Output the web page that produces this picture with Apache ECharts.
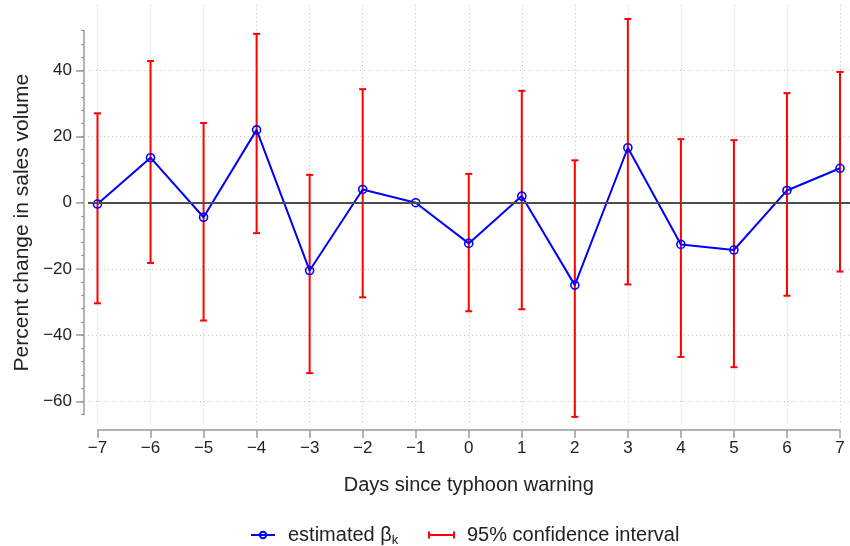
<!DOCTYPE html>
<html>
<head>
<meta charset="utf-8">
<script src="https://cdn.jsdelivr.net/npm/echarts@6/dist/echarts.min.js"></script>
<style>
  html, body { margin: 0; padding: 0; background: #fff; }
  #chart { width: 850px; height: 546px; }
</style>
</head>
<body>
<div id="chart"></div>
<script>
// Event-study estimates by day relative to the typhoon warning
const days = [-7, -6, -5, -4, -3, -2, -1, 0, 1, 2, 3, 4, 5, 6, 7];
const beta = [-0.4, 13.6, -4.4, 22.0, -20.5, 4.0, 0, -12.3, 2.0, -24.9, 16.6, -12.6, -14.3, 3.7, 10.4];
// 95% confidence bounds (day -1 is the omitted reference day)
const ciLow  = [-30.4, -18.2, -35.6, -9.2, -51.5, -28.6, null, -32.8, -32.2, -64.7, -24.7, -46.6, -49.7, -28.1, -20.8];
const ciHigh = [27.0, 42.8, 24.1, 51.0, 8.4, 34.3, null, 8.7, 33.8, 12.8, 55.5, 19.2, 18.9, 33.1, 39.5];
// Labelled y ticks
const yTicks = [-60, -40, -20, 0, 20, 40];

const FONT = '"Liberation Sans", Arial, Helvetica, sans-serif';
const TXT = '#222';
const AXIS_GREY = '#9a9a9a';
const GRID_GREY = '#c4c4c4';

// Pixel geometry of the axes
const X_LEFT = 97.5, X_RIGHT = 840;        // pixel positions of day -7 and day 7
const PX_X = (X_RIGHT - X_LEFT) / 14;
const Y_ZERO = 202.7, PX_Y = 3.31;         // pixel of 0 and pixels per percentage point
const Y_MIN = -64, Y_MAX = 52;             // extent of the y axis line
// Plot region (dotted grid area)
const P_LEFT = 88, P_RIGHT = 850, P_TOP = 5, P_BOTTOM = 425;

const bgXMin = -7 - (X_LEFT - P_LEFT) / PX_X;
const bgXMax = 7 + (P_RIGHT - X_RIGHT) / PX_X;
const bgYMax = (Y_ZERO - P_TOP) / PX_Y;
const bgYMin = -(P_BOTTOM - Y_ZERO) / PX_Y;

const fmtNum = v => (v < 0 ? '\u2212' + Math.abs(v) : String(v));

const ciData = [];
days.forEach((d, i) => {
  if (ciLow[i] != null) ciData.push([d, ciLow[i], ciHigh[i]]);
});
const betaData = days.map((d, i) => [d, beta[i]]);

const chart = echarts.init(document.getElementById('chart'), null, { renderer: 'canvas' });

chart.setOption({
  animation: false,
  backgroundColor: '#fff',
  textStyle: { fontFamily: FONT },
  grid: [
    { left: P_LEFT, right: 850 - P_RIGHT, top: P_TOP, bottom: 546 - P_BOTTOM },
    { left: X_LEFT, right: 850 - X_RIGHT, top: Y_ZERO - Y_MAX * PX_Y, bottom: 546 - (Y_ZERO - Y_MIN * PX_Y) }
  ],
  xAxis: [
    {
      gridIndex: 0, type: 'value', min: bgXMin, max: bgXMax, splitNumber: 14,
      axisLine: { show: false, onZero: false }, axisTick: { show: false }, axisLabel: { show: false },
      splitLine: { show: true, showMinLine: false, showMaxLine: false,
        lineStyle: { type: [1, 3], color: GRID_GREY, width: 1 } }
    },
    {
      gridIndex: 1, type: 'value', min: -7, max: 7, interval: 1, position: 'bottom', offset: 15.5,
      axisLine: { show: true, onZero: false, lineStyle: { color: AXIS_GREY, width: 1.5 } },
      axisTick: { show: true, inside: false, length: 8, lineStyle: { color: AXIS_GREY, width: 1.5 } },
      axisLabel: { margin: 10, fontSize: 17, color: TXT, fontFamily: FONT, formatter: fmtNum },
      splitLine: { show: false },
      name: 'Days since typhoon warning', nameLocation: 'middle', nameGap: 45,
      nameTextStyle: { fontSize: 20, color: TXT, fontFamily: FONT }
    }
  ],
  yAxis: [
    {
      gridIndex: 0, type: 'value', min: bgYMin, max: bgYMax, splitNumber: 6,
      axisLine: { show: false, onZero: false }, axisTick: { show: false }, axisLabel: { show: false },
      splitLine: { show: true, showMinLine: false, showMaxLine: false,
        lineStyle: { type: [1, 3], color: GRID_GREY, width: 1 } }
    },
    {
      // axis line with minor ticks every 4 points
      gridIndex: 1, type: 'value', min: Y_MIN, max: Y_MAX, interval: 4, position: 'left', offset: X_LEFT - 84,
      axisLine: { show: true, onZero: false, lineStyle: { color: AXIS_GREY, width: 1.5 } },
      axisTick: { show: true, length: 3, lineStyle: { color: AXIS_GREY, width: 1.2 } },
      axisLabel: { show: false },
      splitLine: { show: false }
    },
    {
      // labelled major ticks
      gridIndex: 1, type: 'value', min: Y_MIN, max: Y_MAX, interval: 4, position: 'left', offset: X_LEFT - 84,
      axisLine: { show: false, onZero: false },
      axisTick: { show: true, length: 8, customValues: yTicks, lineStyle: { color: AXIS_GREY, width: 1.5 } },
      axisLabel: { show: true, customValues: yTicks, margin: 12, fontSize: 17, color: TXT, fontFamily: FONT,
        formatter: v => (yTicks.indexOf(v) >= 0 ? fmtNum(v) : '') },
      splitLine: { show: false },
      name: 'Percent change in sales volume', nameLocation: 'middle', nameGap: 51,
      nameTextStyle: { fontSize: 21, color: TXT, fontFamily: FONT }
    }
  ],
  legend: [
    {
      left: 250, top: 525, padding: 0, itemWidth: 24, itemHeight: 8,
      data: [{ name: 'estimated β' }],
      formatter: n => n + '{k|k}',
      textStyle: { fontSize: 20, color: TXT, fontFamily: FONT, padding: [0, 0, 0, 8],
        rich: { k: { fontSize: 13, lineHeight: 24, verticalAlign: 'bottom', color: TXT, fontFamily: FONT } } }
    },
    {
      left: 428, top: 525, padding: 0, itemWidth: 27, itemHeight: 7,
      data: [{ name: '95% confidence interval',
        icon: 'path://M0,0H2V7H0Z M0,2.5H27V4.5H0Z M25,0H27V7H25Z',
        itemStyle: { color: '#ff0000' } }],
      textStyle: { fontSize: 20, color: TXT, fontFamily: FONT, padding: [0, 0, 0, 7] }
    }
  ],
  series: [
    {
      // zero reference line across the plot region
      type: 'line', xAxisIndex: 0, yAxisIndex: 0, data: [], silent: true, z: 1,
      markLine: {
        silent: true, symbol: 'none', label: { show: false },
        lineStyle: { color: '#4d4d4d', width: 2, type: 'solid' },
        data: [{ yAxis: 0 }]
      }
    },
    {
      name: '95% confidence interval', type: 'custom', xAxisIndex: 1, yAxisIndex: 1, z: 2,
      clip: false, silent: true,
      itemStyle: { color: '#ff0000' },
      data: ciData,
      encode: { x: 0, y: [1, 2] },
      renderItem: (params, api) => {
        const x = api.value(0);
        const lo = api.coord([x, api.value(1)]);
        const hi = api.coord([x, api.value(2)]);
        const cap = 3.5;
        const st = { stroke: '#ff0000', lineWidth: 2 };
        return {
          type: 'group',
          children: [
            { type: 'line', shape: { x1: hi[0], y1: hi[1], x2: lo[0], y2: lo[1] }, style: st },
            { type: 'line', shape: { x1: hi[0] - cap, y1: hi[1], x2: hi[0] + cap, y2: hi[1] }, style: st },
            { type: 'line', shape: { x1: lo[0] - cap, y1: lo[1], x2: lo[0] + cap, y2: lo[1] }, style: st }
          ]
        };
      }
    },
    {
      name: 'estimated β', type: 'line', xAxisIndex: 1, yAxisIndex: 1, z: 3, clip: false,
      data: betaData,
      symbol: 'circle', symbolSize: 8, showSymbol: true,
      lineStyle: { color: '#0000ff', width: 2 },
      itemStyle: { color: 'rgba(255,255,255,0)', borderColor: '#0000ff', borderWidth: 1.6 },
      emphasis: { disabled: true }
    }
  ]
});
</script>
</body>
</html>
